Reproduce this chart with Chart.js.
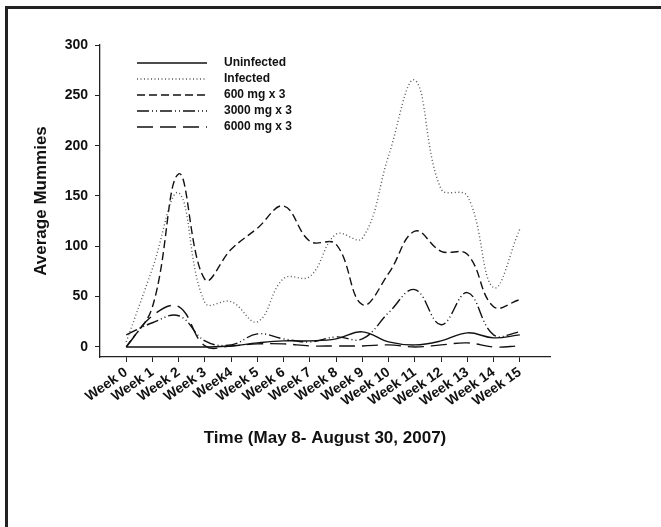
<!DOCTYPE html>
<html>
<head>
<meta charset="utf-8">
<script src="https://cdn.jsdelivr.net/npm/chart.js@4.4.1/dist/chart.umd.min.js"></script>
<style>
  html, body { margin: 0; padding: 0; background: #fff; overflow: hidden; }
  #wrap { position: relative; width: 661px; height: 527px; }
  #frame { position: absolute; left: 5px; top: 6px; width: 700px; height: 600px;
           border-left: 3px solid #222; border-top: 3px solid #222; pointer-events: none; }
</style>
</head>
<body>
<div id="wrap">
  <canvas id="myChart" width="661" height="527"></canvas>
  <div id="frame"></div>
</div>
<script>
// Week labels (note "Week4" has no space in the original)
const weekLabels = ['Week 0', 'Week 1', 'Week 2', 'Week 3', 'Week4', 'Week 5', 'Week 6', 'Week 7',
    'Week 8', 'Week 9', 'Week 10', 'Week 11', 'Week 12', 'Week 13', 'Week 14', 'Week 15'];

// Average mummies per week
const uninfected = [0, 0, 0, 0, 1, 4, 6, 6, 8, 15, 5, 2, 6, 14, 9, 12];
const infected   = [5, 78, 153, 44, 45, 25, 68, 70, 112, 108, 190, 265, 157, 150, 59, 117];
const mg600      = [0, 40, 172, 67, 97, 118, 140, 105, 102, 42, 73, 115, 95, 92, 40, 47];
const mg3000     = [12, 24, 31, 6, 2, 13, 8, 5, 10, 8, 34, 57, 22, 54, 12, 15];
const mg6000     = [0, 31, 40, 1, 1, 3, 3, 1, 1, 1, 2, 0, 2, 4, 0, 1];

const yTicks = [0, 50, 100, 150, 200, 250, 300];

const fontFamily = '"Liberation Sans", Arial, sans-serif';

function toPoints(arr) {
    return arr.map((v, i) => ({ x: i, y: v }));
}

function makeSet(label, values, dash, color) {
    return {
        label: label,
        data: toPoints(values),
        borderColor: color,
        borderWidth: 1.4,
        borderDash: dash,
        pointRadius: 0,
        tension: 0.4,
        fill: false
    };
}

// Legend drawn inside the plot area, like the original
const insideLegend = {
    id: 'insideLegend',
    afterDraw(chart) {
        const { ctx, chartArea } = chart;
        chart.data.datasets.forEach((ds, i) => {
            const y = chartArea.top + 18 + i * 16;
            ctx.save();
            ctx.strokeStyle = ds.borderColor;
            ctx.lineWidth = ds.borderWidth;
            ctx.setLineDash(ds.borderDash);
            ctx.beginPath();
            ctx.moveTo(chartArea.left + 37, y);
            ctx.lineTo(chartArea.left + 107, y);
            ctx.stroke();
            ctx.setLineDash([]);
            ctx.fillStyle = '#111';
            ctx.font = 'bold 12px ' + fontFamily;
            ctx.textBaseline = 'middle';
            ctx.fillText(ds.label, chartArea.left + 124, y);
            ctx.restore();
        });
    }
};

const ctx = document.getElementById('myChart').getContext('2d');

const myChart = new Chart(ctx, {
    type: 'line',
    data: {
        datasets: [
            makeSet('Uninfected', uninfected, [], '#111'),
            makeSet('Infected', infected, [1, 2.5], '#555'),
            makeSet('600 mg x 3', mg600, [8, 4], '#111'),
            makeSet('3000 mg x 3', mg3000, [12, 3, 1, 3, 1, 3], '#111'),
            makeSet('6000 mg x 3', mg6000, [16, 7], '#111')
        ]
    },
    options: {
        responsive: false,
        animation: false,
        layout: {
            padding: { left: 0, top: 45, right: 111, bottom: 78 }
        },
        scales: {
            x: {
                type: 'linear',
                min: -1,
                max: 16.15,
                afterBuildTicks: scale => {
                    scale.ticks = weekLabels.map((w, i) => ({ value: i }));
                },
                afterFit: scale => { scale.height = 92; },
                grid: { drawOnChartArea: false, drawTicks: true, tickLength: 5, color: '#222' },
                border: { display: true, color: '#222', width: 1.3 },
                ticks: {
                    autoSkip: false,
                    minRotation: 35,
                    maxRotation: 35,
                    padding: 2,
                    color: '#111',
                    font: { family: fontFamily, size: 14, weight: 'bold' },
                    callback: value => weekLabels[value]
                },
                title: {
                    display: true,
                    text: 'Time (May 8- August 30, 2007)',
                    color: '#111',
                    padding: { top: 0, bottom: 0 },
                    font: { family: fontFamily, size: 17, weight: 'bold' }
                }
            },
            y: {
                min: -10,
                max: 300,
                afterBuildTicks: scale => {
                    scale.ticks = yTicks.map(v => ({ value: v }));
                },
                afterFit: scale => { scale.width = 100; },
                grid: { drawOnChartArea: false, drawTicks: true, tickLength: 5, color: '#222' },
                border: { display: true, color: '#222', width: 1.3 },
                ticks: {
                    padding: 7,
                    color: '#111',
                    font: { family: fontFamily, size: 14, weight: 'bold' }
                },
                title: {
                    display: true,
                    text: 'Average Mummies',
                    color: '#111',
                    padding: { top: 31, bottom: 0 },
                    font: { family: fontFamily, size: 17, weight: 'bold' }
                }
            }
        },
        plugins: {
            legend: { display: false },
            tooltip: { enabled: false }
        }
    },
    plugins: [insideLegend]
});
</script>
</body>
</html>
